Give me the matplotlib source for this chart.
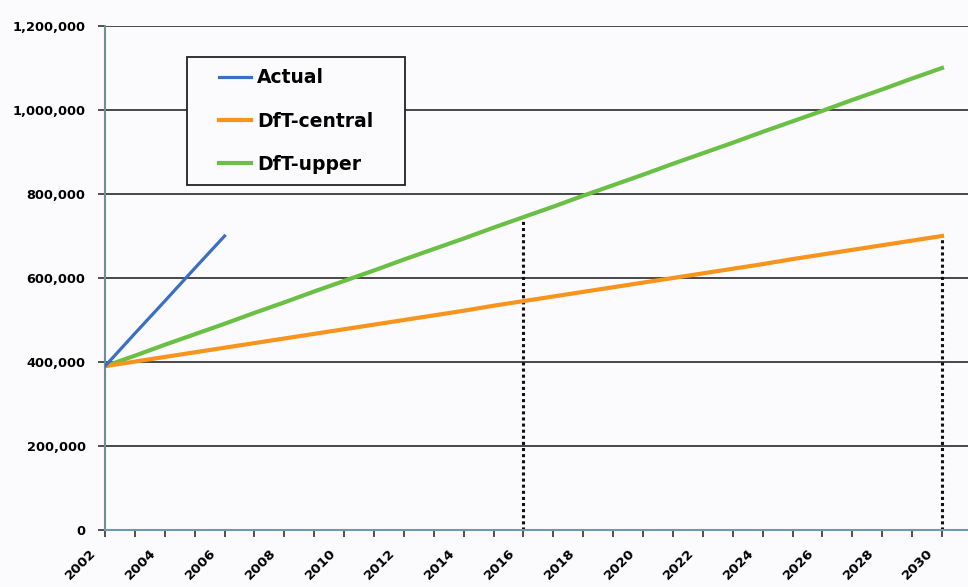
import numpy as np
from matplotlib import pyplot as plt
from matplotlib.patches import Rectangle
from matplotlib.ticker import FuncFormatter, MultipleLocator
from matplotlib.transforms import ScaledTranslation

years = list(range(2002, 2031))
actual_years = [2002, 2003, 2004, 2005, 2006]
actual = [390000, 468000, 545000, 623000, 700000]
central = [390000, 401000, 412000, 423000, 434000, 445000, 456000, 467000, 478000, 489000,
           500000, 511000, 522000, 534000, 545000, 556000, 567000, 578000, 589000, 600000,
           611000, 622000, 633000, 645000, 656000, 667000, 678000, 689000, 700000]
upper = [390000, 415000, 441000, 466000, 491000, 517000, 542000, 568000, 593000, 618000,
         644000, 669000, 694000, 720000, 745000, 770000, 796000, 821000, 846000, 872000,
         897000, 922000, 948000, 973000, 998000, 1024000, 1049000, 1075000, 1100000]
# dotted drop lines: (year, series it reaches)
drop_lines = [(2016, upper), (2030, central)]

plt.rcParams['font.family'] = 'DejaVu Sans'
plt.rcParams['font.weight'] = 'bold'

bg = '#fbfbfd'
W, H = 968, 587
fig = plt.figure(figsize=(W/100, H/100), dpi=100, facecolor=bg)
ax = fig.add_axes([105/W, 57/H, 1 - 105/W, (530-26)/H])
ax.set_facecolor(bg)

ax.set_ylim(0, 1200000)
ax.set_xlim(2002, 2030.87)
ax.yaxis.set_major_locator(MultipleLocator(200000))
ax.grid(axis='y', color='#2a2a2a', lw=1.2, zorder=1)
ax.set_axisbelow(True)

for yr, series in drop_lines:
    ax.vlines(yr, 0, series[years.index(yr)], colors='#111111', lw=2.2,
              linestyles=(0, (1, 1)), zorder=2)

ax.plot(years, upper, color='#6abf45', lw=3.0, label='DfT-upper', zorder=3)
ax.plot(years, central, color='#f7941e', lw=3.0, label='DfT-central', zorder=3)
ax.plot(actual_years, actual, color='#3b6fc4', lw=2.3, label='Actual', zorder=4)

ax.xaxis.set_major_locator(MultipleLocator(2))
ax.xaxis.set_minor_locator(MultipleLocator(1))
ax.tick_params(axis='x', which='both', length=5, width=1.2, color='#333333', pad=7)
ax.tick_params(axis='y', length=5, width=1.2, color='#333333', pad=9, labelsize=9.3)
ax.yaxis.set_major_formatter(FuncFormatter(lambda v, p: f'{int(v):,}'))
shift = ScaledTranslation(-6/100, 0, fig.dpi_scale_trans)
for lab in ax.get_xticklabels():
    lab.set_rotation(45)
    lab.set_ha('right')
    lab.set_va('top')
    lab.set_fontsize(9.7)
    lab.set_transform(lab.get_transform() + shift)

for s in ['top', 'right']:
    ax.spines[s].set_visible(False)
ax.spines['left'].set_color('#6f8f96')
ax.spines['left'].set_linewidth(1.5)
ax.spines['bottom'].set_color('#6f9aa8')
ax.spines['bottom'].set_linewidth(1.5)

# legend box
box = Rectangle((187/W, 1 - 185/H), (405-187)/W, (185-57)/H, transform=fig.transFigure,
                facecolor=bg, edgecolor='#222222', lw=1.3, zorder=4.5)
ax.add_patch(box)
box.set_clip_on(False)

h, l = ax.get_legend_handles_labels()
order = [2, 1, 0]
leg = ax.legend([h[i] for i in order], [l[i] for i in order],
                loc='center', bbox_to_anchor=((187+405)/2/W, 1 - (57+185)/2/H),
                bbox_transform=fig.transFigure, borderaxespad=0,
                prop={'size': 13.5, 'weight': 'bold'}, handlelength=1.7,
                handletextpad=0.35, labelspacing=1.3, borderpad=0,
                frameon=False)
leg.set_zorder(5)

fig.savefig('out.png', dpi=100, facecolor=bg)
